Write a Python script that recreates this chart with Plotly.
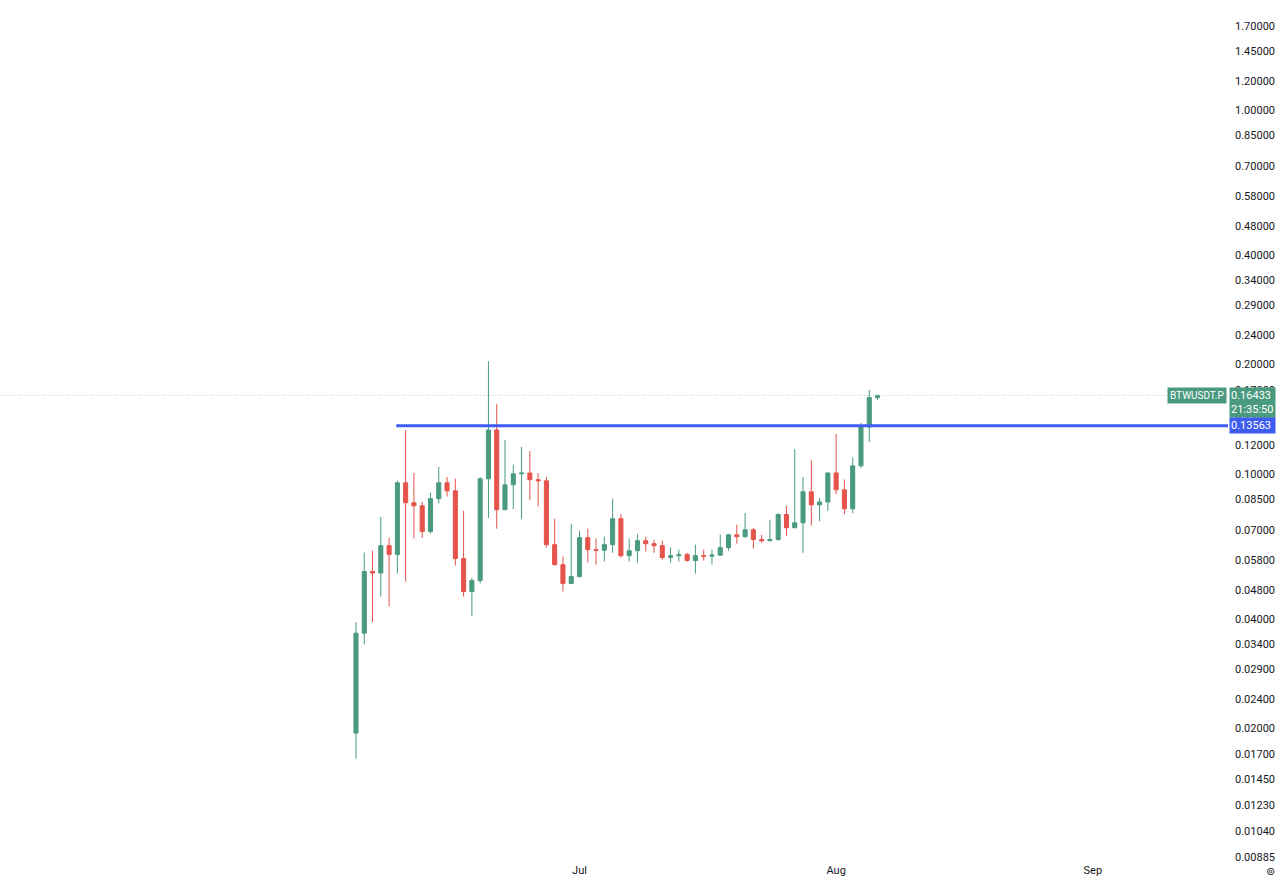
import plotly.graph_objects as go
import pandas as pd
import numpy as np

# Daily candles, BTWUSDT.P perpetual
dates = pd.date_range("2025-06-04", "2025-08-06", freq="D")

opens = [0.0194, 0.0365, 0.0539, 0.0534, 0.0635, 0.0600, 0.0945, 0.0833, 0.0817, 0.0694,
         0.0855, 0.0945, 0.0898, 0.0585, 0.0475, 0.0509, 0.0969, 0.1320, 0.0797, 0.0933,
         0.1000, 0.1005, 0.0964, 0.0957, 0.0639, 0.0563, 0.0500, 0.0522, 0.0668, 0.0619,
         0.0617, 0.0639, 0.0753, 0.0596, 0.0615, 0.0655, 0.0643, 0.0635, 0.0589, 0.0596,
         0.0600, 0.0578, 0.0596, 0.0594, 0.0598, 0.0627, 0.0680, 0.0672, 0.0702, 0.0660,
         0.0655, 0.0660, 0.0773, 0.0711, 0.0734, 0.0893, 0.0822, 0.0837, 0.1006, 0.0904,
         0.0802, 0.1052, 0.1345, 0.1620]
highs = [0.0391, 0.0608, 0.0615, 0.0762, 0.0668, 0.0958, 0.1320, 0.1006, 0.0837, 0.0887,
         0.1045, 0.0980, 0.0970, 0.0792, 0.0518, 0.0980, 0.2040, 0.1555, 0.1240, 0.1060,
         0.1186, 0.1156, 0.1005, 0.0980, 0.0753, 0.0593, 0.0730, 0.0698, 0.0707, 0.0664,
         0.0672, 0.0855, 0.0776, 0.0664, 0.0684, 0.0672, 0.0659, 0.0655, 0.0627, 0.0619,
         0.0607, 0.0639, 0.0619, 0.0619, 0.0681, 0.0684, 0.0725, 0.0781, 0.0710, 0.0680,
         0.0747, 0.0780, 0.0817, 0.1170, 0.0980, 0.1090, 0.0859, 0.1006, 0.1288, 0.0965,
         0.1110, 0.1380, 0.1700, 0.1648]
lows = [0.0165, 0.0340, 0.0391, 0.0460, 0.0432, 0.0532, 0.0506, 0.0664, 0.0667, 0.0685,
        0.0829, 0.0866, 0.0560, 0.0460, 0.0406, 0.0500, 0.0757, 0.0707, 0.0797, 0.0800,
        0.0753, 0.0848, 0.0813, 0.0627, 0.0560, 0.0475, 0.0498, 0.0520, 0.0570, 0.0563,
        0.0574, 0.0607, 0.0589, 0.0574, 0.0570, 0.0612, 0.0607, 0.0581, 0.0570, 0.0574,
        0.0574, 0.0532, 0.0578, 0.0563, 0.0596, 0.0615, 0.0643, 0.0668, 0.0623, 0.0647,
        0.0655, 0.0655, 0.0676, 0.0710, 0.0607, 0.0721, 0.0741, 0.0792, 0.0880, 0.0775,
        0.0780, 0.1040, 0.1224, 0.1597]
closes = [0.0365, 0.0539, 0.0534, 0.0635, 0.0600, 0.0945, 0.0833, 0.0817, 0.0694, 0.0855,
          0.0945, 0.0898, 0.0585, 0.0475, 0.0509, 0.0969, 0.1320, 0.0797, 0.0933, 0.1000,
          0.1005, 0.0964, 0.0957, 0.0639, 0.0563, 0.0500, 0.0522, 0.0668, 0.0619, 0.0617,
          0.0639, 0.0753, 0.0596, 0.0615, 0.0655, 0.0643, 0.0635, 0.0589, 0.0596, 0.0600,
          0.0578, 0.0596, 0.0594, 0.0598, 0.0627, 0.0680, 0.0672, 0.0702, 0.0660, 0.0655,
          0.0660, 0.0773, 0.0711, 0.0734, 0.0893, 0.0822, 0.0837, 0.1006, 0.0904, 0.0802,
          0.1052, 0.1345, 0.1620, 0.16433]

# price scale ticks (log scale)
price_ticks = [2.0, 1.7, 1.45, 1.2, 1.0, 0.85, 0.7, 0.58, 0.48, 0.4, 0.34, 0.29, 0.24,
               0.2, 0.17, 0.145, 0.12, 0.1, 0.085, 0.07, 0.058, 0.048, 0.04, 0.034,
               0.029, 0.024, 0.02, 0.017, 0.0145, 0.0123, 0.0104, 0.00885]
month_ticks = ["2025-07-01", "2025-08-01", "2025-09-01"]
month_labels = ["Jul", "Aug", "Sep"]

symbol = "BTWUSDT.P"
last_price = 0.16433
countdown = "21:35:50"
level_price = 0.13563
level_start = "2025-06-08 21:00"

x_range = ["2025-04-22", "2025-09-17 08:00"]

green = "#4a9a80"
red = "#e5534b"
blue = "#3f5cf0"
font = "Roboto"

fig = go.Figure()

# last price dotted line (under the candles)
fig.add_trace(go.Scatter(
    x=x_range, y=[last_price, last_price], mode="lines",
    line=dict(color="#c3c6cc", width=1, dash="1px,2px"),
    showlegend=False, hoverinfo="skip",
))

fig.add_trace(go.Candlestick(
    x=dates, open=opens, high=highs, low=lows, close=closes,
    increasing=dict(line=dict(color=green, width=1), fillcolor=green),
    decreasing=dict(line=dict(color=red, width=1), fillcolor=red),
    whiskerwidth=0,
    showlegend=False,
))

# horizontal level drawn on the chart
fig.add_trace(go.Scatter(
    x=[level_start, x_range[1]], y=[level_price, level_price], mode="lines",
    line=dict(color=blue, width=3),
    showlegend=False, hoverinfo="skip",
))

# symbol label + last price label
fig.add_annotation(xref="paper", yref="y", x=1, y=np.log10(last_price),
                   xanchor="right", yanchor="middle", xshift=-1,
                   text=symbol, showarrow=False, bgcolor=green, borderpad=2,
                   font=dict(color="white", size=10, family=font))
fig.add_annotation(xref="paper", yref="y", x=1, y=np.log10(last_price),
                   xanchor="left", yanchor="top", xshift=1, yshift=8,
                   text=f"{last_price:.5f} <br>{countdown}", showarrow=False,
                   bgcolor=green, borderpad=1, align="left",
                   font=dict(color="white", size=11, family=font))
fig.add_annotation(xref="paper", yref="y", x=1, y=np.log10(level_price),
                   xanchor="left", yanchor="middle", xshift=1,
                   text=f"{level_price:.5f} ", showarrow=False,
                   bgcolor=blue, borderpad=1,
                   font=dict(color="white", size=11, family=font))

# little scale-settings icon in the corner
fig.add_annotation(xref="paper", yref="paper", x=1, y=0, xanchor="left", yanchor="top",
                   xshift=36, yshift=-1, text="⊚", showarrow=False,
                   font=dict(color="#131722", size=11, family="DejaVu Sans"))

fig.update_layout(
    width=1280, height=876,
    margin=dict(l=0, r=52, t=0, b=14),
    paper_bgcolor="white",
    plot_bgcolor="white",
    font=dict(family=font, size=11, color="#131722"),
    hovermode=False,
)

fig.update_xaxes(
    type="date",
    range=x_range,
    rangeslider=dict(visible=False),
    showgrid=False, zeroline=False, showline=False,
    tickvals=month_ticks, ticktext=month_labels,
    ticks="", ticklabelstandoff=0,
    tickfont=dict(size=11, color="#131722"),
)

fig.update_yaxes(
    type="log",
    range=[np.log10(0.00858), np.log10(2.005)],
    side="right",
    showgrid=False, zeroline=False, showline=False,
    tickvals=price_ticks, ticktext=[f"{p:.5f}" for p in price_ticks],
    ticks="", ticklabelstandoff=6,
    tickfont=dict(size=11, color="#131722"),
)

# drop the default page margin so the chart fills the window
fig.write_html("out.html", config={"displayModeBar": False},
               post_script="document.body.style.margin='0';")
